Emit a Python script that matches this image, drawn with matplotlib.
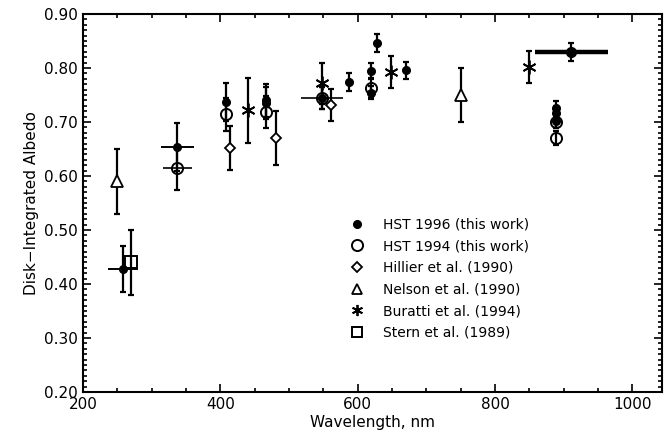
import matplotlib
matplotlib.use('Agg')
import matplotlib.pyplot as plt
from matplotlib.lines import Line2D
from matplotlib.ticker import MultipleLocator, FormatStrFormatter

# HST 1996 (filled dots)
hst96_x = [258, 337, 408, 466, 466, 548, 587, 619, 619, 628, 671, 888, 888, 888]
hst96_y = [0.428, 0.654, 0.737, 0.740, 0.735, 0.745, 0.774, 0.794, 0.754, 0.846, 0.796, 0.726, 0.716, 0.702]
hst96_yerr = [0.043, 0.045, 0.035, 0.03, 0.03, 0.02, 0.017, 0.015, 0.012, 0.017, 0.016, 0.013, 0.013, 0.013]
hst96_xerr = [22, 24, 0, 0, 0, 0, 0, 0, 0, 0, 0, 0, 0, 0]
# broad-band point with the thick horizontal bar
hst96_wide_x = [911]
hst96_wide_y = [0.830]
hst96_wide_yerr = [0.017]
hst96_wide_xerr = [53]

# HST 1994 (open circles)
hst94_x = [337, 408, 466, 548, 619, 888, 888]
hst94_y = [0.615, 0.714, 0.718, 0.745, 0.763, 0.700, 0.670]
hst94_yerr = [0.04, 0.03, 0.03, 0.02, 0.018, 0.012, 0.013]
hst94_xerr = [21, 0, 0, 31, 0, 0, 0]

hillier_x = [414, 481, 561]
hillier_y = [0.652, 0.670, 0.732]
hillier_yerr = [0.04, 0.05, 0.03]

nelson_x = [250, 750]
nelson_y = [0.59, 0.75]
nelson_yerr = [0.06, 0.05]

buratti_x = [440, 548, 648, 850]
buratti_y = [0.722, 0.772, 0.793, 0.802]
buratti_yerr = [0.06, 0.038, 0.03, 0.03]

stern_x = [270]
stern_y = [0.44]
stern_yerr = [0.06]

plt.rcParams['font.family'] = ['DejaVu Sans']

fig = plt.figure(figsize=(6.65, 4.42), dpi=100)
ax = fig.add_axes([0.1248, 0.1131, 0.8707, 0.8552])

eb = dict(fmt='none', ecolor='black', elinewidth=1.6, capsize=2.5, capthick=1.6, zorder=2)

# error bars
ax.errorbar(hst96_x, hst96_y, yerr=hst96_yerr, **eb)
ax.errorbar(hst96_x, hst96_y, xerr=hst96_xerr, fmt='none', ecolor='black', elinewidth=1.4, zorder=2)
ax.errorbar(hst96_wide_x, hst96_wide_y, yerr=hst96_wide_yerr, **eb)
ax.errorbar(hst96_wide_x, hst96_wide_y, xerr=hst96_wide_xerr, fmt='none', ecolor='black', elinewidth=3.2, zorder=2)
ax.errorbar(hst94_x, hst94_y, yerr=hst94_yerr, **eb)
ax.errorbar(hst94_x, hst94_y, xerr=hst94_xerr, fmt='none', ecolor='black', elinewidth=1.2, zorder=2)
ax.errorbar(hillier_x, hillier_y, yerr=hillier_yerr, **eb)
ax.errorbar(nelson_x, nelson_y, yerr=nelson_yerr, **eb)
ax.errorbar(buratti_x, buratti_y, yerr=buratti_yerr, **eb)
ax.errorbar(stern_x, stern_y, yerr=stern_yerr, **eb)

# markers
ax.plot(hst96_x, hst96_y, 'o', color='black', ms=5.5, zorder=3)
ax.plot(hst96_wide_x, hst96_wide_y, 'o', color='black', ms=7, zorder=3)
ax.plot(hst94_x, hst94_y, 'o', mfc='none', mec='black', mew=1.4, ms=8, zorder=3)
ax.plot(hillier_x, hillier_y, 'D', mfc='white', mec='black', mew=1.3, ms=5.5, zorder=3)
ax.plot(nelson_x, nelson_y, '^', mfc='white', mec='black', mew=1.3, ms=9, zorder=3)
ax.plot(buratti_x, buratti_y, marker=(6, 2, 0), ls='none', color='black', mew=1.3, ms=10, zorder=3)
ax.plot(stern_x, stern_y, 's', mfc='none', mec='black', mew=1.4, ms=8, zorder=3)

ax.set_xlim(200, 1043)
ax.set_ylim(0.2, 0.9)
ax.xaxis.set_major_locator(MultipleLocator(200))
ax.xaxis.set_minor_locator(MultipleLocator(50))
ax.yaxis.set_major_locator(MultipleLocator(0.1))
ax.yaxis.set_minor_locator(MultipleLocator(0.01))
ax.yaxis.set_major_formatter(FormatStrFormatter('%.2f'))
ax.tick_params(which='both', direction='in', top=True, right=True, labelsize=11, width=1.2)
ax.tick_params(which='major', length=6)
ax.tick_params(which='minor', length=3)
for s in ax.spines.values():
    s.set_linewidth(1.5)

ax.set_xlabel('Wavelength, nm', fontsize=11, labelpad=2)
ax.set_ylabel('Disk\u2212Integrated Albedo', fontsize=11)

handles = [
    Line2D([], [], ls='none', marker='o', color='black', ms=5.5),
    Line2D([], [], ls='none', marker='o', mfc='none', mec='black', mew=1.4, ms=8),
    Line2D([], [], ls='none', marker='D', mfc='none', mec='black', mew=1.3, ms=5),
    Line2D([], [], ls='none', marker='^', mfc='none', mec='black', mew=1.3, ms=7),
    Line2D([], [], ls='none', marker=(6, 2, 0), color='black', mew=1.3, ms=8),
    Line2D([], [], ls='none', marker='s', mfc='none', mec='black', mew=1.4, ms=7),
]
labels = ['HST 1996 (this work)', 'HST 1994 (this work)', 'Hillier et al. (1990)',
          'Nelson et al. (1990)', 'Buratti et al. (1994)', 'Stern et al. (1989)']
ax.legend(handles, labels, loc='upper left', bbox_to_anchor=(0.45, 0.48), frameon=False,
          fontsize=10, handlelength=1.0, handletextpad=1.36, labelspacing=0.55, borderpad=0)

fig.savefig('out.png', dpi=100)
